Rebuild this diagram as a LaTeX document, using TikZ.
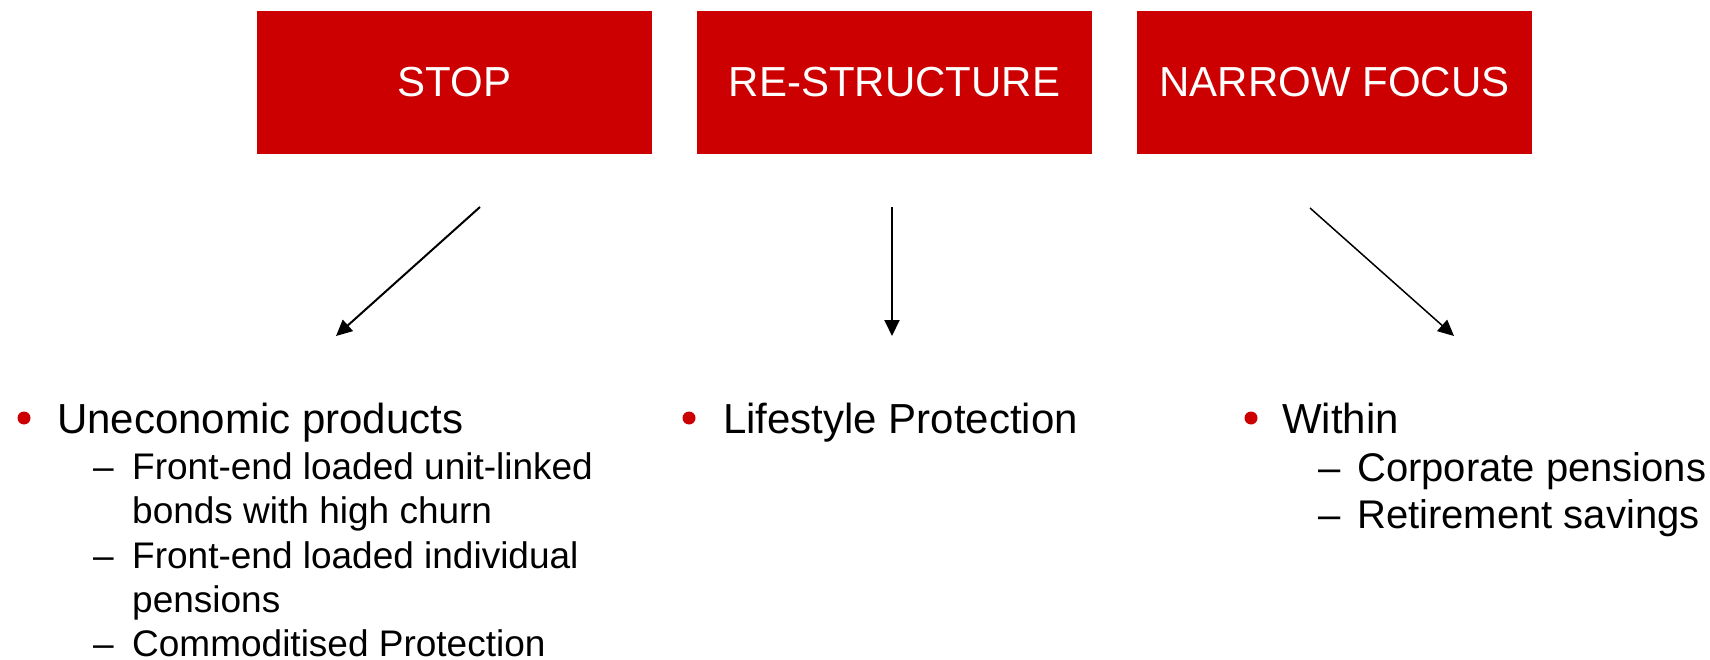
\documentclass[tikz,border=0pt]{standalone}
\usepackage{fontspec}
\setmainfont{Liberation Sans}
\usetikzlibrary{arrows.meta}
\definecolor{boxred}{RGB}{204,0,0}
\tikzset{
  headbox/.style={draw=none, fill=boxred, text=white, minimum width=395pt, minimum height=143pt,
    inner sep=0pt, font=\fontsize{42}{50}\selectfont},
  arr/.style={line width=2pt, -{Triangle[length=16pt,width=15pt]}},
  dotb/.style={circle, fill=boxred, inner sep=0pt, minimum size=13pt},
  mainitem/.style={anchor=base west, inner sep=0pt, font=\fontsize{42}{50}\selectfont},
  subitem/.style={anchor=base west, inner sep=0pt, font=\fontsize{37}{44}\selectfont},
  subitemb/.style={anchor=base west, inner sep=0pt, font=\fontsize{40}{48}\selectfont}
}
\begin{document}
\begin{tikzpicture}[x=1pt,y=-1pt]
\useasboundingbox (0,0) rectangle (1710,660);
% boxes
\node[headbox] (stop) at (454.5,82.5) {STOP};
\node[headbox] (restr) at (894.5,82.5) {RE-STRUCTURE};
\node[headbox] (narrow) at (1334.5,82.5) {NARROW FOCUS};
% arrow ends
\coordinate (s1) at (480,207);
\coordinate (e1) at (336,336);
\coordinate (s2) at (892,207);
\coordinate (e2) at (892,336);
\coordinate (s3) at (1310,208);
\coordinate (e3) at (1454,336);
\draw[arr] (s1) -- (e1);
\draw[arr] (s2) -- (e2);
\draw[arr, line width=1.5pt] (s3) -- (e3);
% left list
\node[dotb] (d1) at (24,418) {};
\node[mainitem] (t1) at (57,433) {Uneconomic products};
\node[subitem] (h11) at (93,479) {–};
\node[subitem] (t11) at (132,479) {Front-end loaded unit-linked};
\node[subitem] (t11b) at (132,523) {bonds with high churn};
\node[subitem] (h12) at (93,568) {–};
\node[subitem] (t12) at (132,568) {Front-end loaded individual};
\node[subitem] (t12b) at (132,612) {pensions};
\node[subitem] (h13) at (93,656) {–};
\node[subitem] (t13) at (132,656) {Commoditised Protection};
% middle list
\node[dotb] (d2) at (689,418) {};
\node[mainitem] (t2) at (723,433) {Lifestyle Protection};
% right list
\node[dotb] (d3) at (1251,418) {};
\node[mainitem] (t3) at (1282,433) {Within};
\node[subitemb] (h31) at (1318,481) {–};
\node[subitemb] (t31) at (1357,481) {Corporate pensions};
\node[subitemb] (h32) at (1318,528) {–};
\node[subitemb] (t32) at (1357,528) {Retirement savings};
\end{tikzpicture}
\end{document}
